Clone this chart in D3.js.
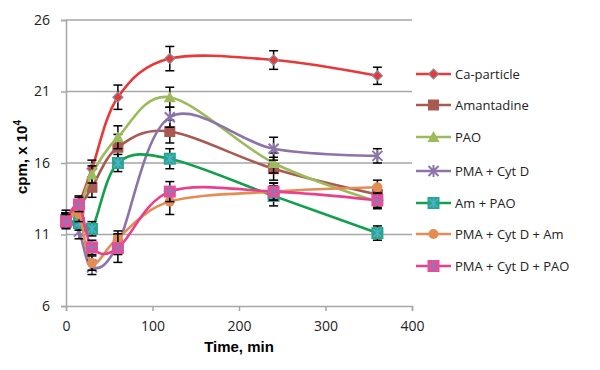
<!DOCTYPE html>
<html>
<head>
<meta charset="utf-8">
<script src="https://cdn.jsdelivr.net/npm/d3@7"></script>
<style>
  body { margin: 0; background: #fff; }
  svg { display: block; }
</style>
</head>
<body>
<svg id="chart" width="600" height="370"></svg>
<script>
// time points (min)
const times = [0, 15, 30, 60, 120, 240, 360];

const seriesNames = ['Ca-particle', 'Amantadine', 'PAO', 'PMA + Cyt D', 'Am + PAO', 'PMA + Cyt D + Am', 'PMA + Cyt D + PAO'];

// cpm x 10^4
const caParticle = [12.2, 13.2, 15.6, 20.6, 23.3, 23.2, 22.1];
const amantadine = [12.0, 12.9, 14.3, 17.1, 18.2, 15.6, 13.8];
const pao        = [12.0, 12.8, 15.2, 17.8, 20.6, 16.0, 13.3];
const pmaCyt     = [12.0, 11.2, 8.7, 10.3, 19.2, 17.0, 16.5];
const amPao      = [12.0, 11.8, 11.4, 16.0, 16.3, 13.7, 11.1];
const pmaCytAm   = [12.0, 12.4, 9.0, 10.75, 13.3, 14.0, 14.3];
const pmaCytPao  = [11.9, 13.1, 10.1, 10.05, 14.0, 14.0, 13.4];

// error bar half-widths
const caErr     = [0.5, 0.5, 0.6, 0.85, 0.85, 0.65, 0.6];
const amErr     = [0.5, 0.5, 0.7, 0.9, 0.8, 0.8, 0.6];
const paoErr    = [0.5, 0.5, 0.6, 0.8, 0.7, 0.7, 0.5];
const pmaErr    = [0.5, 0.5, 0.5, 0.7, 0.7, 0.8, 0.5];
const amPaoErr  = [0.5, 0.5, 0.5, 0.6, 0.7, 0.7, 0.5];
const pmaAmErr  = [0.5, 0.5, 0.5, 0.5, 0.9, 0.6, 0.5];
const pmaPaoErr = [0.5, 0.5, 0.5, 1.0, 0.7, 0.6, 0.5];

const xTicks = [0, 100, 200, 300, 400];
const yTicks = [6, 11, 16, 21, 26];

const series = [
    { name: seriesNames[0], values: caParticle, err: caErr, color: '#e8383a', marker: 'diamond', fill: '#e8383a', stroke: '#8a8a9c' },
    { name: seriesNames[1], values: amantadine, err: amErr, color: '#a85a52', marker: 'square', fill: '#a85a52', stroke: '#a85a52' },
    { name: seriesNames[2], values: pao, err: paoErr, color: '#9dbb5c', marker: 'triangle', fill: '#9dbb5c', stroke: '#9dbb5c' },
    { name: seriesNames[3], values: pmaCyt, err: pmaErr, color: '#8c74a8', marker: 'cross', fill: 'none', stroke: '#8c74a8' },
    { name: seriesNames[4], values: amPao, err: amPaoErr, color: '#12a04e', marker: 'starsquare', fill: '#29a48a', stroke: '#4bb2d0' },
    { name: seriesNames[5], values: pmaCytAm, err: pmaAmErr, color: '#e38d55', marker: 'circle', fill: '#e38d55', stroke: '#e38d55' },
    { name: seriesNames[6], values: pmaCytPao, err: pmaPaoErr, color: '#ea3f8c', marker: 'plussquare', fill: '#ea4c9a', stroke: '#7f80b6' }
];

const svg = d3.select('#chart');
const margin = { left: 66, right: 188, top: 20, bottom: 64 };
const width = 600 - margin.left - margin.right;
const height = 370 - margin.top - margin.bottom;

const g = svg.append('g').attr('transform', `translate(${margin.left},${margin.top})`);

const xScale = d3.scaleLinear().domain([0, 400]).range([0, width]);
const yScale = d3.scaleLinear().domain([6, 26]).range([height, 0]);

const gridColor = '#a6a6a6';

// gridlines
g.selectAll('.grid')
    .data(yTicks.slice(1))
    .enter().append('line')
    .attr('x1', 0).attr('x2', width)
    .attr('y1', d => yScale(d)).attr('y2', d => yScale(d))
    .attr('stroke', gridColor).attr('stroke-width', 1.5);

// axes
const yAxis = g.append('g').call(d3.axisLeft(yScale).tickValues(yTicks).tickSize(5).tickPadding(11));
const xAxis = g.append('g').attr('transform', `translate(0,${height})`)
    .call(d3.axisBottom(xScale).tickValues(xTicks).tickSize(5).tickPadding(10));

[xAxis, yAxis].forEach(ax => {
    ax.select('.domain').attr('stroke', gridColor).attr('stroke-width', 1.5);
    ax.selectAll('.tick line').attr('stroke', gridColor).attr('stroke-width', 1.5);
    ax.selectAll('text')
        .attr('font-family', 'Open Sans, sans-serif')
        .attr('font-size', '14px')
        .attr('fill', '#222');
});

// axis titles
svg.append('text')
    .attr('x', margin.left + width / 2)
    .attr('y', 352)
    .attr('text-anchor', 'middle')
    .attr('font-family', 'Liberation Sans, Arial, sans-serif')
    .attr('font-weight', 'bold')
    .attr('font-size', '15px')
    .text('Time, min');

const yLabel = svg.append('text')
    .attr('transform', 'translate(27,157) rotate(-90)')
    .attr('text-anchor', 'middle')
    .attr('font-family', 'Liberation Sans, Arial, sans-serif')
    .attr('font-weight', 'bold')
    .attr('font-size', '15px');
yLabel.append('tspan').text('cpm, x 10');
yLabel.append('tspan').attr('dy', -6).attr('font-size', '10px').text('4');

// smoothed lines
const line = d3.line()
    .x((d, i) => xScale(times[i]))
    .y(d => yScale(d))
    .curve(d3.curveCatmullRom.alpha(0));

function drawMarker(sel, s, cx, cy) {
    const m = sel.append('g').attr('transform', `translate(${cx},${cy})`);
    if (s.marker === 'diamond') {
        m.append('path').attr('d', 'M0,-5L5,0L0,5L-5,0Z')
            .attr('fill', s.fill).attr('stroke', s.stroke).attr('stroke-width', 1.2);
    } else if (s.marker === 'square') {
        m.append('rect').attr('x', -5.5).attr('y', -5.5).attr('width', 11).attr('height', 11)
            .attr('fill', s.fill);
    } else if (s.marker === 'triangle') {
        m.append('path').attr('d', 'M0,-6L6,5L-6,5Z').attr('fill', s.fill);
    } else if (s.marker === 'cross') {
        m.append('path').attr('d', 'M-5,-5L5,5M-5,5L5,-5M0,-6L0,6')
            .attr('stroke', s.stroke).attr('stroke-width', 2);
    } else if (s.marker === 'starsquare') {
        m.append('rect').attr('x', -6).attr('y', -6).attr('width', 12).attr('height', 12)
            .attr('fill', s.fill);
        m.append('path').attr('d', 'M-4,-4L4,4M-4,4L4,-4M0,-5L0,5')
            .attr('stroke', s.stroke).attr('stroke-width', 1.5);
    } else if (s.marker === 'circle') {
        m.append('circle').attr('r', 5).attr('fill', s.fill);
    } else if (s.marker === 'plussquare') {
        m.append('rect').attr('x', -6).attr('y', -6).attr('width', 12).attr('height', 12)
            .attr('fill', s.fill);
        m.append('path').attr('d', 'M-6,0L6,0M0,-6L0,6')
            .attr('stroke', s.stroke).attr('stroke-width', 1.5);
    }
}

series.forEach(s => {
    const sg = g.append('g').attr('class', 'series');

    sg.append('path')
        .datum(s.values)
        .attr('d', line)
        .attr('fill', 'none')
        .attr('stroke', s.color)
        .attr('stroke-width', 2.6);

    // error bars
    s.values.forEach((v, i) => {
        const x = xScale(times[i]);
        const y1 = yScale(v + s.err[i]);
        const y2 = yScale(v - s.err[i]);
        const eb = sg.append('g').attr('stroke', '#000').attr('stroke-width', 1.5);
        eb.append('line').attr('x1', x).attr('x2', x).attr('y1', y1).attr('y2', y2);
        eb.append('line').attr('x1', x - 4.5).attr('x2', x + 4.5).attr('y1', y1).attr('y2', y1);
        eb.append('line').attr('x1', x - 4.5).attr('x2', x + 4.5).attr('y1', y2).attr('y2', y2);
    });

    s.values.forEach((v, i) => drawMarker(sg, s, xScale(times[i]), yScale(v)));
});

// legend
const legendY = [74, 105, 137, 171, 203, 234, 266];
const legend = svg.append('g');
series.forEach((s, i) => {
    const row = legend.append('g');
    row.append('line')
        .attr('x1', 416).attr('x2', 451)
        .attr('y1', legendY[i]).attr('y2', legendY[i])
        .attr('stroke', s.color).attr('stroke-width', 2.6);
    drawMarker(row, s, 433.5, legendY[i]);
    row.append('text')
        .attr('x', 455)
        .attr('y', legendY[i])
        .attr('dy', '0.35em')
        .attr('font-family', 'Open Sans, sans-serif')
        .attr('font-size', '13px')
        .attr('fill', '#222')
        .text(s.name);
});
</script>
</body>
</html>
